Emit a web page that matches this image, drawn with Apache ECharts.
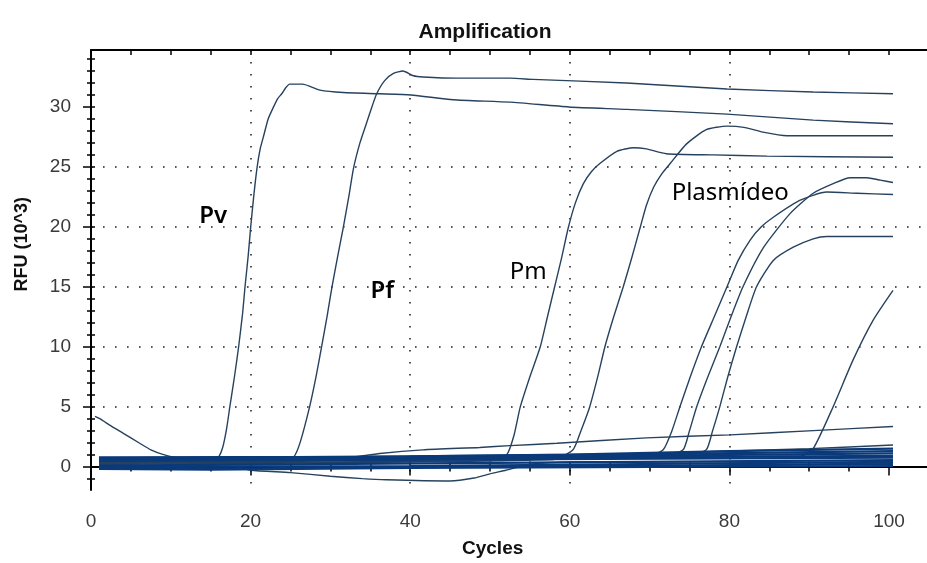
<!DOCTYPE html>
<html>
<head>
<meta charset="utf-8">
<script src="https://cdn.jsdelivr.net/npm/echarts@6/dist/echarts.min.js"></script>
<style>html,body{margin:0;padding:0;background:#fff;}#chart{width:927px;height:563px;}</style>
</head>
<body>
<div id="chart"></div>
<script>
// ---- tick labels / tick positions ----
const xLabelValues = [0, 20, 40, 60, 80, 100];
const xTickValues = [0, 5, 10, 15, 20, 25, 30, 35, 40, 45, 50, 55, 60, 65, 70, 75, 80, 85, 90, 95, 100];
const yLabelValues = [0, 5, 10, 15, 20, 25, 30];
const yTickValues = [-1, 0, 1, 2, 3, 4, 5, 6, 7, 8, 9, 10, 11, 12, 13, 14, 15, 16, 17, 18, 19, 20, 21, 22, 23, 24, 25, 26, 27, 28, 29, 30, 31, 32, 33, 34];

// ---- amplification curves: [cycle, RFU (10^3)] ----
const curvePv = [[1,0.5],[10,0.5],[15.5,0.5],[16,0.8],[16.5,1.6],[17,3.2],[17.4,5],[18,7.6],[18.5,10],[19,12.8],[19.3,15],[19.7,17.6],[20,19.9],[20.4,22.6],[20.8,24.9],[21.2,26.5],[21.6,27.5],[22.2,29],[22.8,29.9],[23.4,30.7],[23.9,31.1],[24.4,31.6],[24.9,31.9],[26.5,31.9],[28.7,31.4],[31.6,31.2],[36.2,31.1],[40.1,31.0],[45.4,30.6],[52.5,30.4],[59.9,30.0],[67.1,29.8],[79.7,29.4],[90.5,28.9],[100.5,28.6]];
const curvePf = [[1,0.3],[24,0.3],[25.4,0.8],[26.2,2],[27.4,5],[28.2,7.5],[28.9,10],[29.6,12.6],[30.2,15],[30.9,17.5],[31.6,19.9],[32.3,22.5],[32.9,24.9],[33.7,27],[34.5,28.6],[35.2,30],[35.8,31.1],[36.8,32.2],[37.9,32.8],[39.1,33.0],[40.4,32.6],[41.6,32.5],[45.8,32.4],[52.5,32.4],[55.4,32.3],[67.1,32.0],[79.7,31.5],[90.5,31.25],[100.5,31.1]];
const curvePm = [[1,0.3],[50,0.5],[52.1,1.0],[53,2.6],[53.8,5],[55,7.5],[56.3,10],[57.2,12.5],[58.1,15],[59,17.5],[59.8,19.9],[60.7,22],[61.7,23.6],[62.7,24.6],[63.8,25.3],[65.9,26.3],[68.0,26.6],[69.6,26.5],[72.1,26.1],[77.9,26.0],[84.7,25.9],[100.5,25.8]];
const curvePlasmid1 = [[1,0.2],[58,0.6],[60.4,1.4],[61.4,3],[62.5,5],[63.5,7.5],[64.4,10],[65.5,12.5],[66.7,15],[67.8,17.5],[68.8,19.9],[69.6,21.8],[70.5,23.3],[71.5,24.4],[72.6,25.3],[74.6,26.9],[77.1,28.1],[79.7,28.4],[81.8,28.3],[84.2,27.9],[87.2,27.6],[100.5,27.6]];
const curvePlasmid2 = [[1,0.4],[70,0.9],[71.7,1.4],[72.8,3],[73.8,5],[75.1,7.5],[76.5,10],[78.1,12.5],[79.7,15],[81.1,17.2],[82.6,18.9],[84,20],[85.5,20.8],[88.8,22.2],[92.2,22.9],[96,22.8],[100.5,22.7]];
const curvePlasmid3 = [[1,0.5],[72,0.9],[74.2,1.4],[75,3],[75.9,5],[77.3,7.5],[78.8,10],[80.2,12.5],[81.7,15],[84.3,18.3],[87.6,21.1],[90.5,22.8],[93,23.6],[95.1,24.1],[97.2,24.1],[98.9,23.9],[100.5,23.7]];
const curvePlasmid4 = [[1,0.6],[75,1.0],[77.1,1.4],[77.9,3],[78.8,5],[79.8,7.5],[80.9,10],[82.1,12.5],[83.4,15],[85.5,17.2],[88,18.3],[90.5,19.0],[92.2,19.2],[100.5,19.2]];
const curveLate = [[1,0.3],[89,0.9],[90.5,1.5],[93,5],[95.5,8.9],[98,12.2],[100.5,14.7]];
const curveDecay = [[0.5,4.2],[1.1,4.0],[2.5,3.4],[4,2.8],[6.1,1.95],[7.5,1.4],[9.1,1.0],[11,0.7],[14,0.55],[20,0.5]];
const curveDrift = [[1,0.4],[20,0.45],[30,0.6],[33,0.8],[36.2,1.1],[41.6,1.4],[48.7,1.6],[52.5,1.75],[58.4,1.95],[69.6,2.4],[80.1,2.65],[90.5,3.0],[100.5,3.35]];
const curveDrift2 = [[1,0.3],[40,0.6],[60,0.9],[75,1.2],[90,1.5],[100.5,1.8]];
const curveDip = [[1,0.0],[18,0.0],[20,-0.3],[25,-0.5],[30,-0.8],[34,-1.0],[37,-1.1],[45,-1.2],[48,-0.95],[50,-0.6],[52,-0.3],[55,0.2],[60,0.4],[80,0.4],[100.5,0.2]];

// ---- baseline wells (dense band) ----
const base1 = [[1,0.78],[35,0.82],[60,1.0],[80,1.3],[100.5,1.5]];
const base2 = [[1,0.7],[40,0.85],[70,1.05],[100.5,1.3]];
const base3 = [[1,0.62],[50,0.8],[100.5,1.1]];
const base4 = [[1,0.55],[100.5,0.9]];
const base5 = [[1,0.48],[50,0.6],[100.5,0.75]];
const base6 = [[1,0.08],[100.5,0.55]];
const base7 = [[1,0.0],[40,0.05],[100.5,0.4]];
const base8 = [[1,-0.1],[20,-0.15],[50,0.0],[100.5,0.2]];
const base9 = [[1,-0.2],[15,-0.25],[40,-0.1],[100.5,0.05]];

// ---- annotations: [cycle, RFU, text, bold] ----
const annotations = [[15.3, 20.9, 'Pv', true], [36.5, 14.6, 'Pf', true], [54.8, 16.2, 'Pm', false], [80.1, 22.8, 'Plasmídeo', false]];

const curveColor = '#27425e';
const bandColor = '#0b3a7a';
const labelFont = "'Liberation Sans', Arial, sans-serif";

const curves = [curvePv, curvePf, curvePm, curvePlasmid1, curvePlasmid2, curvePlasmid3, curvePlasmid4, curveLate, curveDecay, curveDrift, curveDrift2, curveDip];
const bands = [base1, base2, base3, base4, base5, base6, base7, base8, base9];

const series = [];
curves.forEach(d => series.push({
  type: 'line', data: d, xAxisIndex: 0, yAxisIndex: 0, symbol: 'none', smooth: 0.2,
  lineStyle: { color: curveColor, width: 1.4 }, silent: true
}));
bands.forEach(d => series.push({
  type: 'line', data: d, xAxisIndex: 0, yAxisIndex: 0, symbol: 'none',
  lineStyle: { color: bandColor, width: 2.2 }, silent: true
}));
series.push({
  type: 'scatter', xAxisIndex: 0, yAxisIndex: 0, symbolSize: 1,
  itemStyle: { color: 'rgba(255,255,255,0)' },
  data: annotations.map(a => ({
    value: [a[0], a[1]],
    label: { show: true, position: 'inside', formatter: a[2], fontFamily: "'Noto Sans', 'Open Sans', sans-serif",
      fontSize: 24, fontWeight: a[3] ? 600 : 400, color: '#000', textBorderWidth: 0, textBorderColor: 'transparent', opacity: 1 }
  })),
  z: 10
});

const xMin = 0, xMax = 104.76, yMin = -1.95, yMax = 34.75;
const gridBox = { left: 91, right: 0, top: 50, bottom: 73 };
const dotted = { color: '#222', width: 1.6, type: [1.6, 10.4] };
const tickLine = { color: '#000', width: 1.5 };

function tickOnlyX(grid, values, len, inside, pos) {
  return { gridIndex: grid, type: 'value', position: pos || 'bottom', min: xMin, max: xMax, interval: 20,
    axisLine: { show: false },
    axisTick: { show: true, customValues: values, length: len, inside: inside, lineStyle: tickLine },
    axisLabel: { show: false }, splitLine: { show: false } };
}
function tickOnlyY(grid, values, len, inside) {
  return { gridIndex: grid, type: 'value', min: yMin, max: yMax, splitNumber: 7, minInterval: 5, maxInterval: 5,
    axisLine: { show: false },
    axisTick: { show: true, customValues: values, length: len, inside: inside, lineStyle: tickLine },
    axisLabel: { show: false }, splitLine: { show: false } };
}

const option = {
  backgroundColor: '#ffffff',
  animation: false,
  title: {
    text: 'Amplification', left: 480, top: 17, textAlign: 'center',
    textStyle: { fontFamily: labelFont, fontWeight: 'bold', fontSize: 21, color: '#111' }
  },
  grid: [Object.assign({}, gridBox), Object.assign({}, gridBox), Object.assign({}, gridBox)],
  xAxis: [
    { gridIndex: 0, type: 'value', position: 'bottom', min: xMin, max: xMax, interval: 20,
      axisLine: { lineStyle: { color: '#000', width: 2 } },
      axisTick: { show: true, customValues: xLabelValues, length: 9, inside: false, lineStyle: tickLine },
      axisLabel: { customValues: xLabelValues, formatter: v => (xLabelValues.indexOf(v) >= 0 ? String(v) : ''),
        fontFamily: labelFont, fontSize: 19, color: '#3a3a3a', margin: 22 },
      splitLine: { show: true, showMinLine: false, showMaxLine: false, lineStyle: dotted } },
    { gridIndex: 0, type: 'value', position: 'top', min: xMin, max: xMax, interval: 20,
      axisLine: { lineStyle: { color: '#000', width: 2 } },
      axisTick: { show: true, customValues: xTickValues, length: 5, inside: true, lineStyle: tickLine },
      axisLabel: { show: false }, splitLine: { show: false } },
    tickOnlyX(1, xTickValues, 5, false),
    tickOnlyX(2, xTickValues, 5, true)
  ],
  yAxis: [
    { gridIndex: 0, type: 'value', min: yMin, max: yMax, splitNumber: 7, minInterval: 5, maxInterval: 5,
      axisLine: { show: true, lineStyle: { color: '#000', width: 2 } },
      axisTick: { show: true, customValues: yLabelValues, length: 8, inside: false, lineStyle: tickLine },
      axisLabel: { customValues: yLabelValues, formatter: v => (yLabelValues.indexOf(v) >= 0 ? String(v) : ''),
        fontFamily: labelFont, fontSize: 19, color: '#3a3a3a', margin: 20 },
      splitLine: { show: true, showMinLine: false, showMaxLine: false, lineStyle: dotted } },
    tickOnlyY(1, yTickValues, 4, false),
    tickOnlyY(2, yTickValues, 4, true)
  ],
  graphic: [
    { type: 'text', left: 13, top: 197, rotation: Math.PI / 2,
      style: { text: 'RFU (10^3)', fontFamily: labelFont, fontWeight: 'bold', fontSize: 18, fill: '#111' } },
    { type: 'text', left: 462, top: 539,
      style: { text: 'Cycles', fontFamily: labelFont, fontWeight: 'bold', fontSize: 19, fill: '#111' } }
  ],
  series: series
};

const chart = echarts.init(document.getElementById('chart'), null, { renderer: 'canvas' });
chart.setOption(option);
</script>
</body>
</html>
